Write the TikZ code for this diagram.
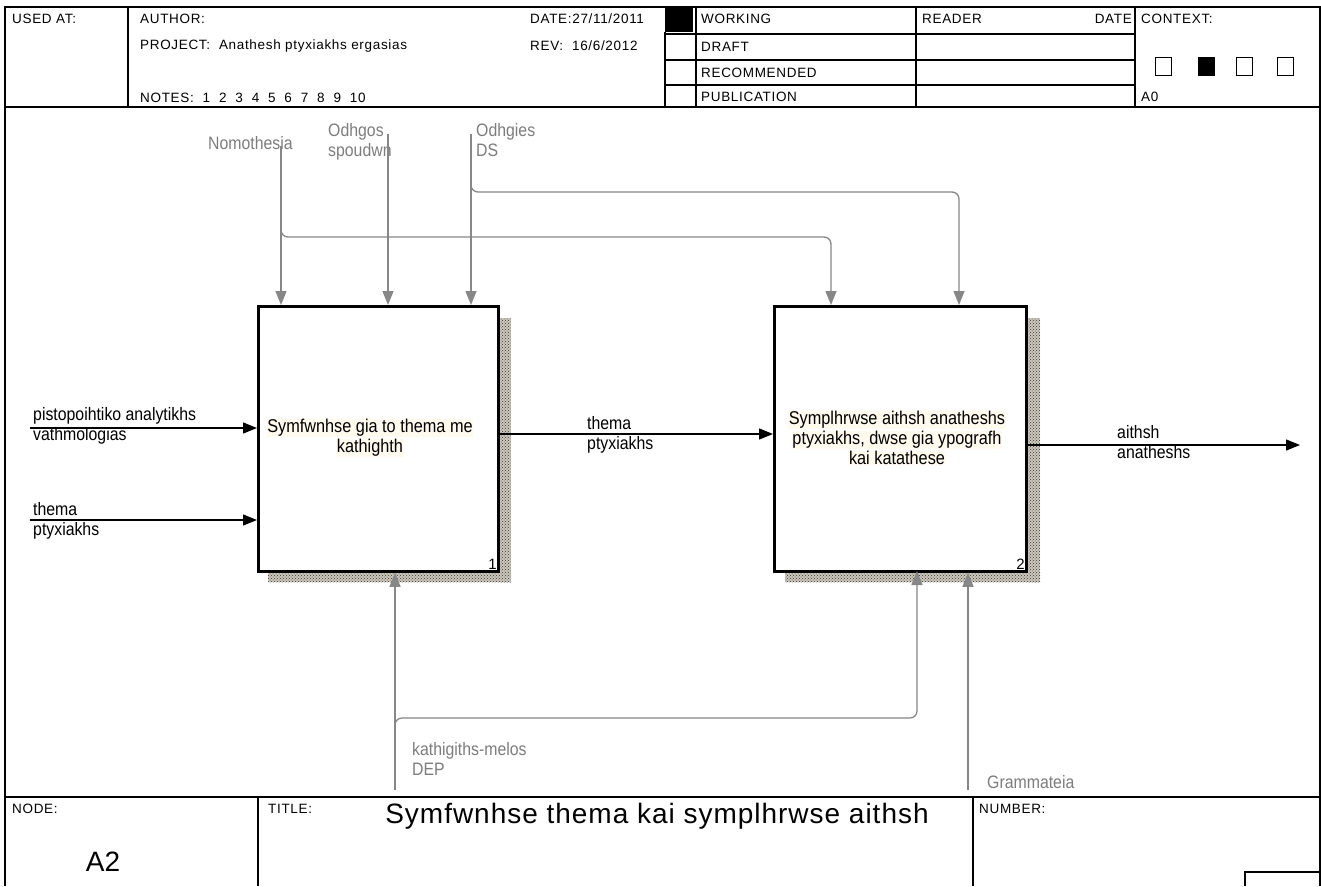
\documentclass[tikz,border=0pt]{standalone}
\usepackage{fontspec}
\setmainfont{Liberation Sans}
\newfontfamily\formfont[LetterSpace=5]{Liberation Sans}
\newfontfamily\diagfont[FakeStretch=0.88]{Liberation Sans}
\newfontfamily\titlefont[LetterSpace=3.5]{Liberation Sans}
\usetikzlibrary{positioning, arrows.meta, patterns}

\definecolor{ctrlgray}{RGB}{135,135,135}
\definecolor{labelgray}{RGB}{125,125,125}
\definecolor{notecream}{RGB}{255,249,238}
\definecolor{shadowbase}{RGB}{205,200,188}

\setlength{\fboxsep}{0.6pt}
\newcommand{\creambox}[1]{\colorbox{notecream}{#1}}

\begin{document}
\begin{tikzpicture}[x=1pt, y=-1pt,
    formline/.style={black, line width=1.1pt},
    formtext/.style={anchor=west, inner sep=0pt, font=\formfont\fontsize{13.5}{15}\selectfont},
    activity/.style={draw=black, line width=2.8pt, fill=white, anchor=north west, minimum height=265pt},
    acttext/.style={align=center, inner sep=0pt, font=\diagfont\fontsize{18.5}{20}\selectfont},
    flowlabel/.style={align=left, inner sep=0pt, font=\diagfont\fontsize{18}{20}\selectfont},
    ctrllabel/.style={flowlabel, text=labelgray},
    flow/.style={black, line width=1.3pt, -{Triangle[length=14pt,width=11pt]}},
    ctrl/.style={ctrlgray, line width=1.3pt, -{Triangle[length=14pt,width=11pt]}},
    branch/.style={ctrl, rounded corners=7pt},
    boxshadow/.style={fill=shadowbase, postaction={pattern=crosshatch dots, pattern color=black!80}}
  ]
  \useasboundingbox[fill=white] (0,0) rectangle (1321,886);

  % Form frame
  \draw[formline] (5,886) -- (5,7) -- (1320,7) -- (1320,886);
  \draw[formline] (5,107) -- (1320,107);
  \draw[formline] (5,797) -- (1320,797);

  % Header cells
  \foreach \x in {128, 696, 916, 1135} {
    \draw[formline] (\x,7) -- (\x,107);
  }
  \draw[formline] (665,32) -- (665,107);
  \foreach \y in {34, 60, 85} {
    \draw[formline] (665,\y) -- (1135,\y);
  }
  \fill[black] (665,8) rectangle (693,32);

  \node[formtext] (usedat) at (12,19) {USED AT:};
  \node[formtext] (author) at (140,19) {AUTHOR:};
  \node[formtext] (project) at (140,46) {PROJECT:\ \ Anathesh ptyxiakhs ergasias};
  \node[formtext] (notes) at (140,98) {NOTES:~~1~~2~~3~~4~~5~~6~~7~~8~~9~~10};
  \node[formtext] (date) at (530,19) {DATE:27/11/2011};
  \node[formtext] (rev) at (530,46) {REV:\ \ 16/6/2012};
  \node[formtext] (working) at (701,19) {WORKING};
  \node[formtext] (draft) at (701,47) {DRAFT};
  \node[formtext] (recommended) at (701,73) {RECOMMENDED};
  \node[formtext] (publication) at (701,97) {PUBLICATION};
  \node[formtext] (reader) at (922,19) {READER};
  \node[formtext, anchor=east] (readdate) at (1132,19) {DATE};
  \node[formtext] (context) at (1141,19) {CONTEXT:};
  \node[formtext] (ctxnode) at (1141,97) {A0};

  % Context boxes
  \foreach \x/\c in {1155/white, 1198/black, 1236/white, 1277/white} {
    \draw[black, line width=1pt, fill=\c] (\x,57) rectangle +(16,18);
  }

  % Footer cells
  \draw[formline] (258,797) -- (258,886);
  \draw[formline] (973,797) -- (973,886);
  \draw[formline] (1245,886) -- (1245,872) -- (1320,872);
  \node[formtext] (nodelbl) at (12,809) {NODE:};
  \node[formtext] (titlelbl) at (268,809) {TITLE:};
  \node[formtext] (numberlbl) at (979,809) {NUMBER:};
  \node[font=\titlefont\fontsize{28}{30}\selectfont, inner sep=0pt] (title) at (657,816) {Symfwnhse thema kai symplhrwse aithsh};
  \node[font=\fontsize{28}{30}\selectfont, inner sep=0pt] (nodenum) at (103,862) {A2};

  % Shadows of the activity boxes
  \path[boxshadow] (500,318) rectangle (511,582);
  \path[boxshadow] (268,572) rectangle (511,582);
  \path[boxshadow] (1028,318) rectangle (1040,582);
  \path[boxshadow] (785,572) rectangle (1040,582);

  % Activities
  \node[activity, minimum width=240pt] (act1) at (257,305) {};
  \node[activity, minimum width=252pt] (act2) at (773,305) {};
  \node[acttext] (act1txt) at (370,438) {\creambox{Symfwnhse gia to thema me}\\\creambox{kathighth}};
  \node[acttext] (act2txt) at (897,438) {\creambox{Symplhrwse aithsh anatheshs}\\\creambox{ptyxiakhs, dwse gia ypografh}\\\creambox{kai katathese}};
  \node[font=\fontsize{15}{16}\selectfont, inner sep=1pt, above left=2pt and 2pt of act1.south east] (act1num) {1};
  \node[font=\fontsize{15}{16}\selectfont, inner sep=1pt, above left=2pt and 2pt of act2.south east] (act2num) {2};

  % Inputs and outputs
  \coordinate (cert) at (30,428);
  \coordinate (topicin) at (30,520);
  \coordinate (out) at (1300,445);
  \node[flowlabel, anchor=west] (certlbl) at (33,426) {pistopoihtiko analytikhs\\vathmologias};
  \node[flowlabel, anchor=west] (topiclbl) at (33,521) {thema\\ptyxiakhs};
  \node[flowlabel, anchor=west] (midlbl) at (587,435) {thema\\ptyxiakhs};
  \node[flowlabel, anchor=west] (outlbl) at (1117,442) {aithsh\\anatheshs};
  \draw[flow] (cert) -- (cert -| act1.west);
  \draw[flow] (topicin) -- (topicin -| act1.west);
  \draw[flow] (act1.east |- 0,434) -- (act2.west |- 0,434);
  \draw[flow] (act2.east |- out) -- (out);

  % Controls
  \node[ctrllabel, anchor=west] (lawlbl) at (208,143) {Nomothesia};
  \node[ctrllabel, anchor=north west] (guidelbl) at (328,123) {Odhgos\\spoudwn};
  \node[ctrllabel, anchor=north west] (dslbl) at (476,123) {Odhgies\\DS};
  \coordinate (law) at (281,146);
  \coordinate (guide) at (388,134);
  \coordinate (ds) at (471,134);
  \draw[ctrl] (law) -- (law |- act1.north);
  \draw[ctrl] (guide) -- (guide |- act1.north);
  \draw[ctrl] (ds) -- (ds |- act1.north);
  \draw[branch] (281,226) |- (831,237) -- (831,305);
  \draw[branch] (471,181) |- (959,192) -- (959,305);

  % Mechanisms
  \node[ctrllabel, anchor=north west] (teacherlbl) at (412,742) {kathigiths-melos\\DEP};
  \node[ctrllabel, anchor=west] (officelbl) at (987,782) {Grammateia};
  \coordinate (teacher) at (395,790);
  \coordinate (office) at (968,790);
  \draw[ctrl] (teacher) -- (teacher |- act1.south);
  \draw[ctrl] (office) -- (office |- act2.south);
  \draw[branch] (395,728) |- (917,718) -- (917,571);
\end{tikzpicture}
\end{document}
